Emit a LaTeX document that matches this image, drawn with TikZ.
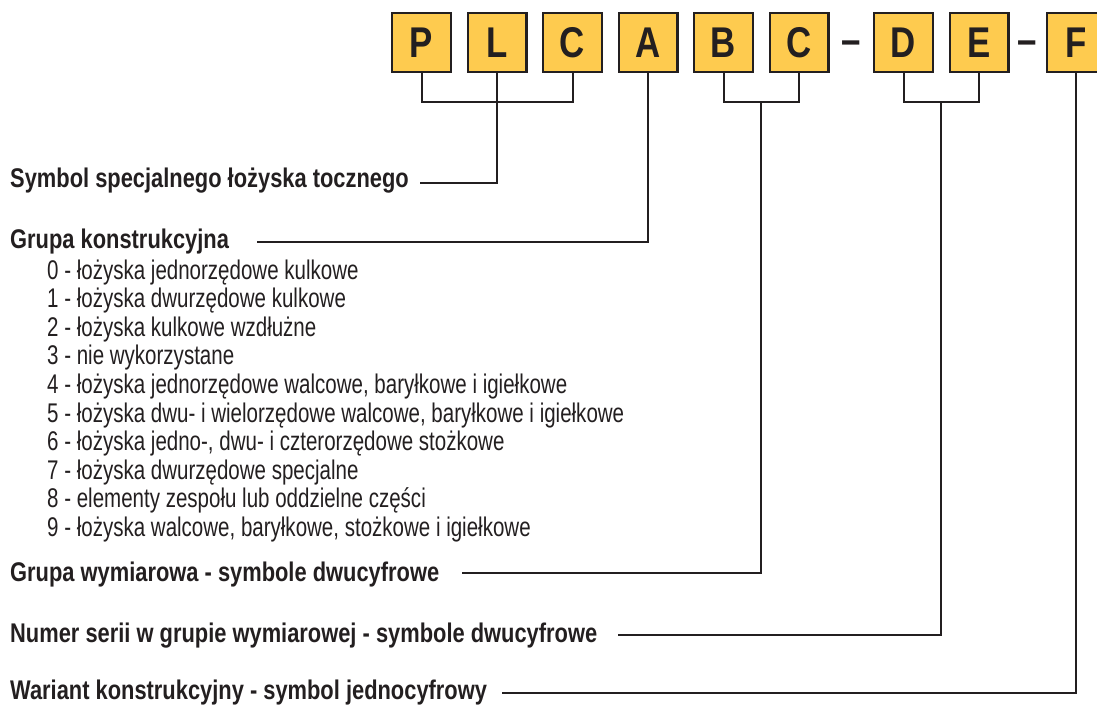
\documentclass[tikz,border=0pt]{standalone}
\usepackage{fontspec}
\setmainfont{Liberation Sans}[FakeStretch=0.76, BoldFeatures={FakeStretch=0.81}]
\usetikzlibrary{positioning,calc}
\definecolor{boxyellow}{HTML}{FECB4F}
\definecolor{ink}{HTML}{231F20}

\begin{document}
\begin{tikzpicture}[x=1pt, y=-1pt,
		letter/.style = {draw=ink, line width=2.4pt, fill=boxyellow, minimum size=58.6pt, inner sep=0pt, text=ink, font=\fontsize{43}{43}\selectfont\bfseries},
		sep/.style    = {inner sep=0pt, yshift=-5pt, text=ink, font=\fontsize{43}{43}\selectfont\bfseries},
		head/.style   = {anchor=base west, inner sep=0pt, text=ink, font=\fontsize{27}{30}\selectfont\bfseries},
		item/.style   = {anchor=base west, inner sep=0pt, text=ink, font=\fontsize{27}{30}\selectfont},
		lead/.style   = {draw=ink, line width=2pt}]
	
	\path[use as bounding box, clip] (0,0) rectangle (1097,706);
	
	% symbol boxes
	\node[letter] (p) at (421.5,42.5) {P};
	\node[letter, right=14.5pt of p] (l) {L};
	\node[letter, right=14.5pt of l] (c1) {C};
	\node[letter, right=14.5pt of c1] (a) {A};
	\node[letter, right=14.5pt of a] (b) {B};
	\node[letter, right=14.5pt of b] (c2) {C};
	\node[letter, right=43.5pt of c2] (d) {D};
	\node[letter, right=14.5pt of d] (e) {E};
	\node[letter, right=36pt of e] (f) {F};
	\node[sep] (dash1) at ($(c2.east)!.5!(d.west)$) {–};
	\node[sep] (dash2) at ($(e.east)!.5!(f.west)$) {–};
	
	% descriptions
	\node[head] (sym) at (10,187) {Symbol specjalnego łożyska tocznego};
	\node[head] (gk) at (10,248) {Grupa konstrukcyjna};
	\foreach \i/\txt in {0/{łożyska jednorzędowe kulkowe},
		1/{łożyska dwurzędowe kulkowe},
		2/{łożyska kulkowe wzdłużne},
		3/{nie wykorzystane},
		4/{łożyska jednorzędowe walcowe, baryłkowe i igiełkowe},
		5/{łożyska dwu- i wielorzędowe walcowe, baryłkowe i igiełkowe},
		6/{łożyska jedno-, dwu- i czterorzędowe stożkowe},
		7/{łożyska dwurzędowe specjalne},
		8/{elementy zespołu lub oddzielne części},
		9/{łożyska walcowe, baryłkowe, stożkowe i igiełkowe}}
	\node[item] (g\i) at (47, 279+28.6*\i) {\i{} - \txt};
	\node[head] (gw) at (10,581) {Grupa wymiarowa - symbole dwucyfrowe};
	\node[head] (ns) at (10,642) {Numer serii w grupie wymiarowej - symbole dwucyfrowe};
	\node[head] (wk) at (10,699) {Wariant konstrukcyjny - symbol jednocyfrowy};
	
	% brackets
	\draw[lead] (p.south) -- (p.south |- 0,102) -| (c1.south);
	\draw[lead] (b.south) -- (b.south |- 0,102) -| (c2.south);
	\draw[lead] (d.south) -- (d.south |- 0,102) -| (e.south);
	\coordinate (bc) at ($(b.south |- 0,102)!.5!(c2.south |- 0,102)$);
	\coordinate (de) at ($(d.south |- 0,102)!.5!(e.south |- 0,102)$);
	
	% leader ends
	\coordinate (s1) at (420,183);
	\coordinate (k1) at (257,242);
	\coordinate (w1) at (462,573);
	\coordinate (n1) at (618,635);
	\coordinate (v1) at (502,693);
	
	\draw[lead] (l.south) |- (s1);
	\draw[lead] (a.south) |- (k1);
	\draw[lead] (bc) |- (w1);
	\draw[lead] (de) |- (n1);
	\draw[lead] (f.south) |- (v1);
\end{tikzpicture}
\end{document}
